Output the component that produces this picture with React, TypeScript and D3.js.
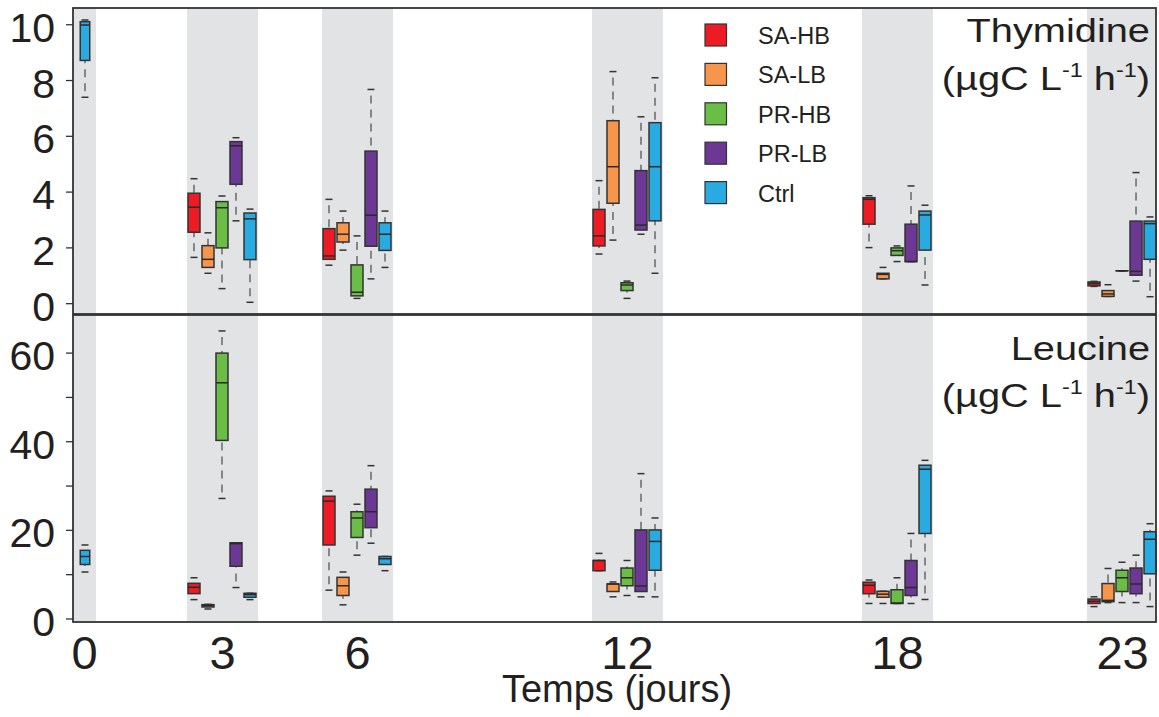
import React from 'react';
import * as d3 from 'd3';

type Box = [number, number, number, number, number] | null;

// Sampling days and labels
const days = [0, 3, 6, 12, 18, 23];
const dayLabels = ['0', '3', '6', '12', '18', '23'];
const groups = ['SA-HB', 'SA-LB', 'PR-HB', 'PR-LB', 'Ctrl'];
const groupColors = ['#ED1C24', '#F7964A', '#6ABD45', '#6C3795', '#29ABE2'];

// Thymidine: [lower whisker, Q1, median, Q3, upper whisker] per day
const thySAHB: Box[] = [null, [1.66, 2.56, 3.46, 3.96, 4.48], [1.38, 1.59, 1.71, 2.69, 3.74], [1.78, 2.07, 2.43, 3.38, 4.41], [2.01, 2.85, 3.74, 3.8, 3.87], [0.62, 0.64, 0.72, 0.78, 0.8]];
const thySALB: Box[] = [null, [1.09, 1.3, 1.59, 2.08, 2.54], [1.92, 2.21, 2.49, 2.9, 3.32], [2.28, 3.6, 4.91, 6.56, 8.32], [0.89, 0.89, 1.05, 1.09, 1.3], [0.26, 0.26, 0.35, 0.47, 0.68]];
const thyPRHB: Box[] = [null, [0.54, 2.0, 3.44, 3.66, 3.86], [0.19, 0.28, 0.41, 1.39, 2.43], [0.19, 0.47, 0.67, 0.75, 0.81], [1.51, 1.73, 1.9, 2.0, 2.07], [1.18, 1.18, 1.18, 1.18, 1.18]];
const thyPRLB: Box[] = [null, [2.97, 4.28, 5.66, 5.81, 5.95], [0.89, 2.06, 3.17, 5.47, 7.68], [2.49, 2.64, 2.82, 4.77, 6.7], [1.51, 1.51, 1.51, 2.85, 4.22], [0.81, 1.02, 1.16, 2.96, 4.7]];
const thyCtrl: Box[] = [[7.4, 8.72, 9.99, 10.11, 10.17], [0.05, 1.58, 3.04, 3.25, 3.39], [1.3, 1.91, 2.49, 2.9, 3.32], [1.09, 2.97, 4.91, 6.49, 8.1], [0.67, 1.92, 3.18, 3.32, 3.53], [0.25, 1.59, 2.87, 2.96, 3.11]];

// Leucine
const leuSAHB: Box[] = [null, [4.37, 5.72, 7.15, 8.05, 9.3], [6.5, 16.7, 26.6, 27.7, 28.9], [10.9, 10.9, 13.2, 13.2, 14.8], [3.5, 5.7, 7.6, 8.3, 8.8], [2.8, 3.5, 4.0, 4.5, 5.0]];
const leuSALB: Box[] = [null, [2.26, 2.71, 3.0, 3.24, 3.3], [3.2, 5.3, 7.5, 9.4, 10.6], [5.0, 6.2, 7.9, 7.9, 8.35], [3.5, 4.9, 5.6, 6.25, 6.25], [3.7, 3.9, 4.2, 8.0, 11.4]];
const leuPRHB: Box[] = [null, [27.2, 40.3, 53.3, 60.0, 65.0], [14.4, 18.4, 22.8, 24.2, 25.9], [5.3, 7.5, 9.3, 11.5, 13.2], [3.5, 3.5, 3.6, 6.6, 9.3], [3.7, 6.2, 9.3, 11.0, 12.8]];
const leuPRLB: Box[] = [null, [7.1, 11.9, 17.0, 17.2, 17.2], [17.1, 20.6, 24.2, 29.3, 34.6], [5.0, 6.2, 7.45, 20.1, 32.8], [3.5, 5.3, 7.1, 13.2, 19.3], [3.7, 5.7, 7.9, 11.5, 14.4]];
const leuCtrl: Box[] = [[10.6, 12.3, 14.1, 15.5, 16.7], [4.37, 4.9, 5.5, 5.8, 5.8], [10.9, 12.3, 13.6, 14.1, 14.1], [5.0, 11.0, 17.5, 20.1, 22.8], [4.4, 19.3, 33.8, 34.7, 35.8], [2.8, 10.2, 18.0, 19.7, 21.5]];

const thyTicks = [0, 2, 4, 6, 8, 10];
const leuTicks = [0, 10, 20, 30, 40, 50, 60];
const leuTickLabels = [0, 20, 40, 60];

const thySeries = [thySAHB, thySALB, thyPRHB, thyPRLB, thyCtrl];
const leuSeries = [leuSAHB, leuSALB, leuPRHB, leuPRLB, leuCtrl];

const FONT = '"Liberation Sans", Arial, Helvetica, sans-serif';
const INK = '#231F20';

const L = 73, R = 1156;
const TOP_T = 8, TOP_B = 314, BOT_T = 315, BOT_B = 622;

const x = d3.scaleLinear().domain([-0.322, 23.744]).range([L, R]);
const yThy = d3.scaleLinear().domain([-0.37, 10.6]).range([TOP_B, TOP_T]);
const yLeu = d3.scaleLinear().domain([-0.68, 68.6]).range([BOT_B, BOT_T]);
const inner = d3.scalePoint().domain(groups).range([-28.5, 27.5]);

function BoxPlot({ cx, w, b, y, color }: { cx: number; w: number; b: [number, number, number, number, number]; y: d3.ScaleLinear<number, number>; color: string }) {
  const [lo, q1, med, q3, hi] = b;
  const cap = 3.5;
  return (
    <g>
      {hi > q3 && (
        <line x1={cx} x2={cx} y1={y(hi)} y2={y(q3)} stroke="#4a4a4a" strokeWidth={1.2} strokeDasharray="8 6" strokeDashoffset={-6} />
      )}
      {lo < q1 && (
        <line x1={cx} x2={cx} y1={y(lo)} y2={y(q1)} stroke="#4a4a4a" strokeWidth={1.2} strokeDasharray="8 6" strokeDashoffset={-6} />
      )}
      <line x1={cx - cap} x2={cx + cap} y1={y(hi)} y2={y(hi)} stroke="#333" strokeWidth={1.5} />
      <line x1={cx - cap} x2={cx + cap} y1={y(lo)} y2={y(lo)} stroke="#333" strokeWidth={1.5} />
      <rect x={cx - w / 2} y={y(q3)} width={w} height={Math.max(0.01, y(q1) - y(q3))} fill={color} stroke="#333" strokeWidth={1.5} />
      <line x1={cx - w / 2} x2={cx + w / 2} y1={y(med)} y2={y(med)} stroke="#2a2a2a" strokeWidth={1.5} />
    </g>
  );
}

function Panel({ series, y }: { series: Box[][]; y: d3.ScaleLinear<number, number> }) {
  const items: React.ReactNode[] = [];
  days.forEach((d, di) => {
    const present = series.map((s, gi) => ({ b: s[di], gi })).filter((o) => o.b);
    present.forEach(({ b, gi }) => {
      const solo = present.length === 1;
      const cx = solo ? x(d) - 2.5 : x(d) + (inner(groups[gi]) as number);
      const w = solo ? 9.5 : 12;
      items.push(<BoxPlot key={`${di}-${gi}`} cx={cx} w={w} b={b as any} y={y} color={groupColors[gi]} />);
    });
  });
  return <g>{items}</g>;
}

function Title({ name, yBase }: { name: string; yBase: number }) {
  const sx = 1.17;
  return (
    <g transform={`translate(1150,0) scale(${sx},1)`} fill={INK} fontFamily={FONT}>
      <text x={0} y={yBase} textAnchor="end" fontSize={34}>{name}</text>
      <text x={0} y={yBase + 47.5} textAnchor="end" fontSize={34}>
        <tspan>(µgC L</tspan>
        <tspan fontSize={20} dy={-13}>-1</tspan>
        <tspan dy={13}> h</tspan>
        <tspan fontSize={20} dy={-13}>-1</tspan>
        <tspan dy={13}>)</tspan>
      </text>
    </g>
  );
}

export default function App() {
  const bands = days.map((d) => [Math.max(x.domain()[0], d - 0.79), d === 0 ? 0.19 : d + 0.79]);
  return (
    <div style={{ position: 'absolute', left: 0, top: 0 }}>
      <svg width={1159} height={717} style={{ display: 'block', background: '#fff' }}>
        {bands.map(([a, b], i) => (
          <rect key={i} x={x(a)} y={TOP_T} width={Math.min(R, x(b)) - x(a)} height={BOT_B - TOP_T} fill="#E2E3E5" />
        ))}

        <Panel series={thySeries} y={yThy} />
        <Panel series={leuSeries} y={yLeu} />

        {/* frames */}
        <rect x={L} y={TOP_T} width={R - L} height={TOP_B - TOP_T} fill="none" stroke="#333" strokeWidth={1.8} />
        <rect x={L} y={BOT_T} width={R - L} height={BOT_B - BOT_T} fill="none" stroke="#333" strokeWidth={1.8} />

        {/* y ticks */}
        {thyTicks.map((t) => (
          <g key={`tt${t}`}>
            <line x1={66} x2={L} y1={yThy(t)} y2={yThy(t)} stroke="#333" strokeWidth={1.3} />
            <text x={55} y={yThy(t) + 17} textAnchor="end" fontSize={41} fontFamily={FONT} fill={INK}>{t}</text>
          </g>
        ))}
        {leuTicks.map((t) => (
          <line key={`lt${t}`} x1={66} x2={L} y1={yLeu(t)} y2={yLeu(t)} stroke="#333" strokeWidth={1.3} />
        ))}
        {leuTickLabels.map((t) => (
          <text key={`ll${t}`} x={55} y={yLeu(t) + 17} textAnchor="end" fontSize={41} fontFamily={FONT} fill={INK}>{t}</text>
        ))}

        {/* x labels */}
        {days.map((d, i) => (
          <text key={`x${d}`} x={d === 0 ? x(d) - 3 : x(d)} y={669} textAnchor="middle" fontSize={47} fontFamily={FONT} fill={INK}>{dayLabels[i]}</text>
        ))}
        <text x={617} y={702} textAnchor="middle" fontSize={38} fontFamily={FONT} fill={INK}>Temps (jours)</text>

        <Title name="Thymidine" yBase={42.5} />
        <Title name="Leucine" yBase={360} />

        {/* legend */}
        {groups.map((g, i) => {
          const ty = 24 + i * 39.4;
          return (
            <g key={g}>
              <rect x={705} y={ty} width={21.5} height={22} fill={groupColors[i]} stroke="#333" strokeWidth={1.2} />
              <text x={758} y={ty + 11 + 9} fontSize={23.5} fontFamily={FONT} fill={INK}>{g}</text>
            </g>
          );
        })}
      </svg>
    </div>
  );
}
